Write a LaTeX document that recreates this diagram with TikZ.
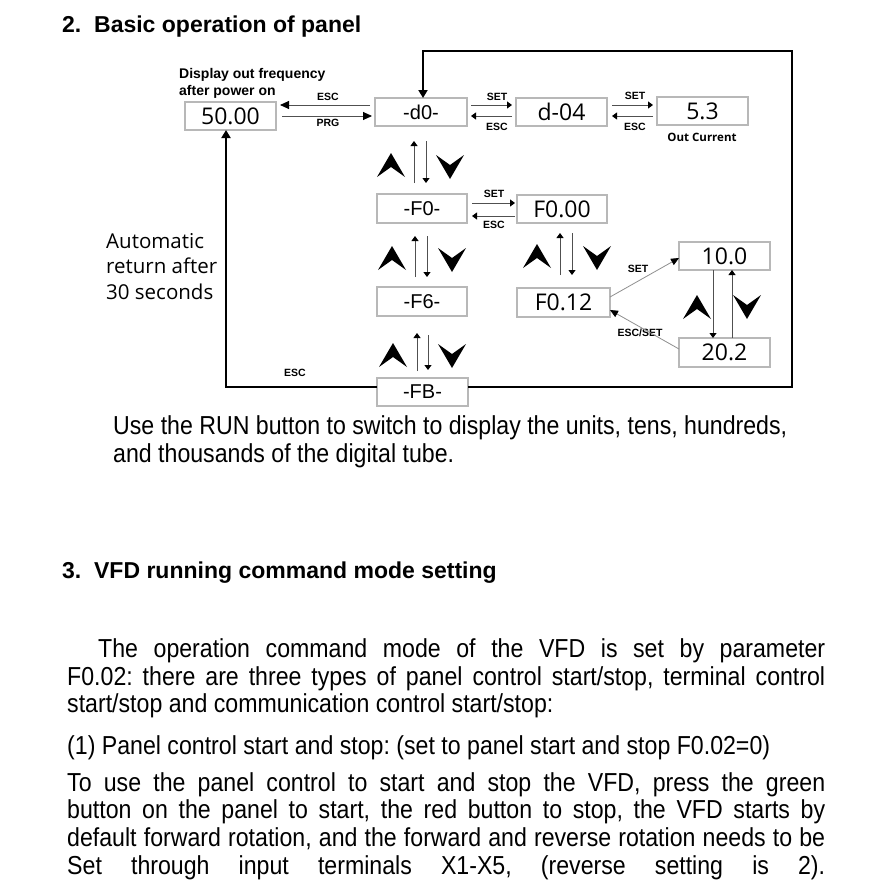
\documentclass[tikz,border=0pt]{standalone}
\usepackage{fontspec}
\setmainfont{Liberation Sans}
\newfontfamily\osans{Open Sans}
\newfontfamily\narrowfont[FakeStretch=0.89]{Liberation Sans}
\usetikzlibrary{arrows.meta}
\definecolor{boxgray}{HTML}{B8B8B8}
\definecolor{lgray}{HTML}{505050}
\definecolor{dgray}{HTML}{909090}
\frenchspacing
\begin{document}
\begin{tikzpicture}[x=1pt,y=-1pt,
  box/.style={draw=boxgray, line width=1.3pt, inner sep=0pt, outer sep=0pt, minimum height=28pt, minimum width=91pt},
  osbox/.style={box, font=\osans\fontsize{23}{25}\selectfont},
  arbox/.style={box, font=\fontsize{20}{22}\selectfont},
  lab/.style={inner sep=0pt, font=\bfseries\fontsize{10.5}{12}\selectfont},
  harr/.style={draw=lgray, line width=0.9pt, -{Triangle[length=5pt,width=7pt,color=black]}},
  bigharr/.style={draw=lgray, line width=0.9pt, -{Triangle[length=9pt,width=8pt,color=black]}},
  varr/.style={draw=lgray, line width=0.9pt, -{Triangle[length=5pt,width=7pt,color=black]}},
  darr/.style={draw=dgray, line width=0.8pt, -{Triangle[length=8pt,width=7pt,color=black]}},
  loopline/.style={draw=black, line width=1.8pt},
  looparr/.style={loopline, -{Triangle[length=8pt,width=9pt]}},
  chevup/.pic={\fill (-14,12) -- (0,-12) -- (14,12) -- (0,2) -- cycle;},
  chevdown/.pic={\fill (-14,-12) -- (0,12) -- (14,-12) -- (0,-2) -- cycle;},
  body/.style={anchor=base west, inner sep=0pt, font=\narrowfont\fontsize{26}{28}\selectfont},
  head/.style={anchor=base west, inner sep=0pt, font=\bfseries\fontsize{23}{26}\selectfont}
]
\path[use as bounding box, fill=white] (0,0) rectangle (894,894);

% headings and text
\node[head] (h2) at (62,32) {2.\ \ Basic operation of panel};
\node[body] (u1) at (113,434) {Use the RUN button to switch to display the units, tens, hundreds,};
\node[body] (u2) at (113,462) {and thousands of the digital tube.};
\node[head] (h3) at (62,578) {3.\ \ VFD running command mode setting};
\node[body] (p1) at (98,657) {\makebox[727pt][s]{The operation command mode of the VFD is set by parameter}};
\node[body] (p2) at (67,685) {\makebox[758pt][s]{F0.02: there are three types of panel control start/stop, terminal control}};
\node[body] (p3) at (67,712) {start/stop and communication control start/stop:};
\node[body] (p4) at (67,754) {(1) Panel control start and stop: (set to panel start and stop F0.02=0)};
\node[body] (p5) at (67,791) {\makebox[758pt][s]{To use the panel control to start and stop the VFD, press the green}};
\node[body] (p6) at (67,818) {\makebox[758pt][s]{button on the panel to start, the red button to stop, the VFD starts by}};
\node[body] (p7) at (67,846) {\makebox[758pt][s]{default forward rotation, and the forward and reverse rotation needs to be}};
\node[body] (p8) at (67,874) {\makebox[758pt][s]{Set through input terminals X1-X5, (reverse setting is 2).}};

% boxes
\node[osbox] (f50) at (230.5,116) {50.00};
\node[arbox, minimum width=92pt] (d0) at (421,112) {-d0-};
\node[osbox] (d04) at (561.5,112) {d-04};
\node[osbox] (v53) at (702.5,111) {5.3};
\node[arbox, minimum width=90pt, minimum height=29pt] (F0) at (422,208.5) {-F0-};
\node[osbox, minimum width=90pt] (F000) at (562,209) {F0.00};
\node[arbox, minimum width=90pt, minimum height=29pt] (F6) at (422,301.5) {-F6-};
\node[osbox, minimum width=93pt, minimum height=29pt] (F012) at (563.5,302.5) {F0.12};
\node[osbox] (v10) at (724.5,256) {10.0};
\node[osbox, minimum height=29pt] (v20) at (724.5,352.5) {20.2};
\node[arbox] (FB) at (422.5,392) {-FB-};

% labels
\node[anchor=base west, inner sep=0pt, font=\bfseries\fontsize{14}{17}\selectfont, align=left] (disp) at (179,95) {Display out frequency\\after power on};
\node[lab] (lesc1) at (328,97) {ESC};
\node[lab] (lprg) at (328,123) {PRG};
\node[lab] (lset1) at (497,97) {SET};
\node[lab] (lesc2) at (497,127) {ESC};
\node[lab] (lset2) at (635,96) {SET};
\node[lab] (lesc3) at (635,127) {ESC};
\node[inner sep=0pt, font=\osans\bfseries\fontsize{11.5}{13}\selectfont] (outc) at (702,137) {Out Current};
\node[lab] (lset3) at (494,194) {SET};
\node[lab] (lesc4) at (494,225) {ESC};
\node[lab] (lset4) at (638,269) {SET};
\node[lab] (lescset) at (640,333) {ESC/SET};
\node[lab] (lesc5) at (295,373) {ESC};
\node[anchor=base west, inner sep=0pt, font=\osans\fontsize{20.5}{25.5}\selectfont, align=left] (auto) at (106,299) {Automatic\\return after\\30 seconds};

% horizontal arrows
\draw[bigharr, shorten <=5pt, shorten >=4pt] (d0.west |- 0,105) -- (f50.east |- 0,105);
\draw[bigharr, shorten <=6pt, shorten >=3pt] (f50.east |- 0,116) -- (d0.west |- 0,116);
\draw[harr, shorten <=4pt, shorten >=4pt] (d0.east |- 0,105) -- (d04.west |- 0,105);
\draw[harr, shorten <=4pt, shorten >=4pt] (d04.west |- 0,116) -- (d0.east |- 0,116);
\draw[harr, shorten <=5pt, shorten >=4pt] (d04.east |- 0,105) -- (v53.west |- 0,105);
\draw[harr, shorten <=4pt, shorten >=5pt] (v53.west |- 0,116) -- (d04.east |- 0,116);
\draw[harr, shorten <=5pt, shorten >=2pt] (F0.east |- 0,203) -- (F000.west |- 0,203);
\draw[harr, shorten <=2pt, shorten >=5pt] (F000.west |- 0,216) -- (F0.east |- 0,216);

% vertical arrows
\draw[varr, shorten <=11pt, shorten >=15pt] (F0.north -| 414,0) -- (d0.south -| 414,0);
\draw[varr, shorten <=15pt, shorten >=11pt] (d0.south -| 426,0) -- (F0.north -| 426,0);
\draw[varr, shorten <=10pt, shorten >=13pt] (F6.north -| 415,0) -- (F0.south -| 415,0);
\draw[varr, shorten <=13pt, shorten >=10pt] (F0.south -| 427,0) -- (F6.north -| 427,0);
\draw[varr, shorten <=13pt, shorten >=10pt] (F012.north -| 560,0) -- (F000.south -| 560,0);
\draw[varr, shorten <=10pt, shorten >=13pt] (F000.south -| 572,0) -- (F012.north -| 572,0);
\draw[varr, shorten <=7pt, shorten >=17pt] (FB.north -| 417,0) -- (F6.south -| 417,0);
\draw[varr, shorten <=19pt, shorten >=8pt] (F6.south -| 428,0) -- (FB.north -| 428,0);
\draw[varr] (v10.south -| 713,0) -- (v20.north -| 713,0);
\draw[varr] (v20.north -| 732,0) -- (v10.south -| 732,0);

% diagonal arrows
\draw[darr] (F012.east |- 0,297) -- (v10.west |- 0,258);
\draw[darr] (v20.west |- 0,349) -- (F012.east |- 0,310);

% chevrons
\pic at (391,165) {chevup};
\pic at (450,167) {chevdown};
\pic at (392,258) {chevup};
\pic at (452,260) {chevdown};
\pic at (537,256) {chevup};
\pic at (597,258) {chevdown};
\pic at (393,355) {chevup};
\pic at (452,356) {chevdown};
\pic at (697,307) {chevup};
\pic at (747,307) {chevdown};

% loop lines
\draw[looparr] (FB.east |- 0,387) -| (792,51) -| ([xshift=2pt]d0.north);
\draw[looparr] (FB.west |- 0,387) -| ([xshift=-4.5pt]f50.south);
\end{tikzpicture}
\end{document}
